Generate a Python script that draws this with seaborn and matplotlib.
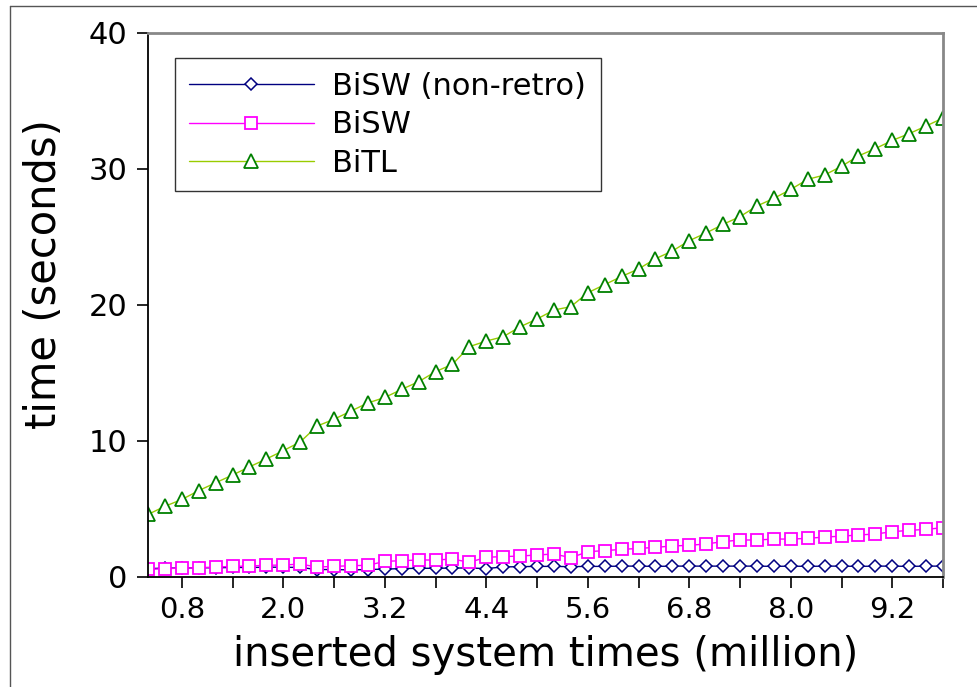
import matplotlib
matplotlib.use("Agg")
import matplotlib.pyplot as plt
from matplotlib.lines import Line2D
import seaborn as sns
import pandas as pd

x_million = [0.4, 0.6, 0.8, 1.0, 1.2, 1.4, 1.6, 1.8, 2.0, 2.2, 2.4, 2.6, 2.8, 3.0, 3.2, 3.4,
             3.6, 3.8, 4.0, 4.2, 4.4, 4.6, 4.8, 5.0, 5.2, 5.4, 5.6, 5.8, 6.0, 6.2, 6.4, 6.6,
             6.8, 7.0, 7.2, 7.4, 7.6, 7.8, 8.0, 8.2, 8.4, 8.6, 8.8, 9.0, 9.2, 9.4, 9.6, 9.8]

bisw_nonretro = [0.62, 0.65, 0.66, 0.68, 0.68, 0.70, 0.70, 0.72, 0.72, 0.70, 0.55, 0.55,
                 0.52, 0.55, 0.58, 0.62, 0.64, 0.64, 0.66, 0.66, 0.62, 0.74, 0.76, 0.78,
                 0.78, 0.76, 0.78, 0.78, 0.80, 0.80, 0.78, 0.80, 0.80, 0.80, 0.80, 0.80,
                 0.80, 0.78, 0.80, 0.78, 0.80, 0.80, 0.78, 0.80, 0.80, 0.78, 0.80, 0.80]

bisw = [0.56, 0.61, 0.66, 0.68, 0.73, 0.78, 0.81, 0.86, 0.88, 0.95, 0.73, 0.78, 0.83, 0.86,
        1.15, 1.20, 1.25, 1.25, 1.32, 1.08, 1.45, 1.50, 1.54, 1.62, 1.69, 1.42, 1.86, 1.94,
        2.03, 2.10, 2.18, 2.28, 2.33, 2.43, 2.60, 2.72, 2.72, 2.79, 2.79, 2.84, 2.94, 3.00,
        3.09, 3.16, 3.33, 3.43, 3.50, 3.63]

bitl = [4.60, 5.20, 5.70, 6.35, 6.93, 7.50, 8.10, 8.68, 9.29, 9.93, 11.10, 11.60, 12.20,
        12.80, 13.20, 13.80, 14.36, 15.10, 15.64, 16.94, 17.35, 17.67, 18.40, 18.97, 19.63,
        19.88, 20.90, 21.50, 22.10, 22.65, 23.40, 23.97, 24.73, 25.30, 25.93, 26.50, 27.28,
        27.84, 28.50, 29.24, 29.56, 30.20, 30.96, 31.50, 32.10, 32.60, 33.16, 33.75]

series_names = ["BiSW (non-retro)", "BiSW", "BiTL"]
x_ticks = [0.8, 1.4, 2.0, 2.6, 3.2, 3.8, 4.4, 5.0, 5.6, 6.2, 6.8, 7.4, 8.0, 8.6, 9.2, 9.8]
x_ticklabels = ["0.8", "", "2.0", "", "3.2", "", "4.4", "", "5.6", "", "6.8", "", "8.0", "", "9.2", ""]
y_ticks = [0, 10, 20, 30, 40]

sns.set_style("ticks")
plt.rcParams["font.family"] = ["DejaVu Sans"]
plt.rcParams["text.color"] = "black"
plt.rcParams["axes.labelcolor"] = "black"

W, H = 977, 687
fig = plt.figure(figsize=(W / 100, H / 100), dpi=100)
ax = fig.add_axes([148 / W, (H - 577) / H, (943 - 148) / W, (577 - 33) / H])

styles = [
    dict(color="#000080", marker="D", markersize=6.0, markerfacecolor="white",
         markeredgecolor="#000080", markeredgewidth=1.1),
    dict(color="#ff00ff", marker="s", markersize=8.3, markerfacecolor="white",
         markeredgecolor="#ff00ff", markeredgewidth=1.3),
    dict(color="#99cc00", marker="^", markersize=10, markerfacecolor="white",
         markeredgecolor="#008000", markeredgewidth=1.3),
]
values = [bisw_nonretro, bisw, bitl]
for name, vals, st in zip(series_names, values, styles):
    df = pd.DataFrame({"x": x_million, "y": vals})
    sns.lineplot(data=df, x="x", y="y", ax=ax, label=name, linewidth=1.0,
                 errorbar=None, sort=False, **st)

ax.set_xlim(0.4, 9.8)
ax.set_ylim(0, 40)
ax.set_xticks(x_ticks)
ax.set_xticklabels(x_ticklabels)
ax.set_yticks(y_ticks)
ax.tick_params(axis="both", length=8, width=1.2, direction="out",
               color="black", labelcolor="black")
ax.tick_params(axis="x", labelsize=21, pad=6)
ax.tick_params(axis="y", labelsize=22, pad=7)

for s in ["left", "bottom"]:
    ax.spines[s].set_color("black")
    ax.spines[s].set_linewidth(1.3)
for s in ["top", "right"]:
    ax.spines[s].set_color("#888888")
    ax.spines[s].set_linewidth(2.0)

ax.set_xlabel("inserted system times (million)", fontsize=29, color="black")
ax.set_ylabel("time (seconds)", fontsize=30, color="black")
ax.xaxis.set_label_coords(0.5, -0.107)
ax.yaxis.set_label_coords(-0.104, 0.556)

handles = ax.get_lines()[:3]
leg = ax.legend(handles, series_names, loc="upper left",
                bbox_to_anchor=((175 - 148) / 795, (577 - 58) / 544, 426 / 795, 0.0),
                mode="expand", borderaxespad=0, fontsize=22, frameon=True, fancybox=False,
                handlelength=4.1, handletextpad=0.6, labelspacing=0.31, borderpad=0.45,
                numpoints=1)
leg.get_frame().set_edgecolor("black")
leg.get_frame().set_linewidth(1.0)
for t in leg.get_texts():
    t.set_color("black")

# outer frame
fig.add_artist(Line2D([10 / W, 10 / W], [0, 1 - 6 / H], transform=fig.transFigure,
                      color="#555555", linewidth=1.0))
fig.add_artist(Line2D([10 / W, 1], [1 - 6 / H, 1 - 6 / H], transform=fig.transFigure,
                      color="#555555", linewidth=1.0))

fig.savefig("out.png", dpi=100)
